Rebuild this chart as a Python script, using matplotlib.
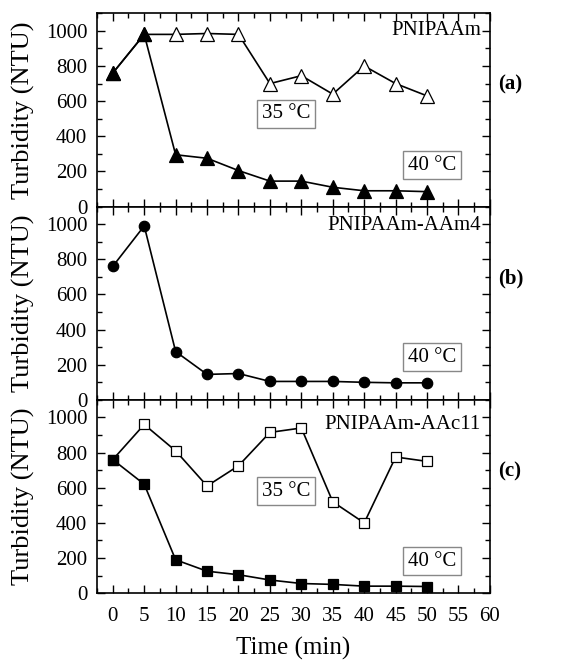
import numpy as np
import matplotlib.pyplot as plt
from matplotlib.ticker import MultipleLocator

plt.rcParams['font.family'] = 'serif'
plt.rcParams['font.serif'] = ['Liberation Serif', 'DejaVu Serif']
plt.rcParams['mathtext.fontset'] = 'stix'

# tiempos de muestreo (min)
t = [0, 5, 10, 15, 20, 25, 30, 35, 40, 45, 50]

# (a) PNIPAAm
a_40 = [760, 980, 295, 275, 205, 145, 145, 110, 90, 90, 85]
a_35 = [760, 980, 980, 985, 980, 700, 745, 640, 800, 700, 630]

# (b) PNIPAAm-AAm4
b_40 = [760, 990, 275, 145, 150, 105, 105, 105, 100, 97, 97]

# (c) PNIPAAm-AAc11
c_35 = [760, 960, 810, 610, 725, 915, 940, 520, 400, 775, 750]
c_40 = [760, 620, 190, 125, 105, 75, 55, 50, 40, 40, 38]

names = ['PNIPAAm', 'PNIPAAm-AAm4', 'PNIPAAm-AAc11']
tags = ['(a)', '(b)', '(c)']
xticks = [0, 5, 10, 15, 20, 25, 30, 35, 40, 45, 50, 55, 60]

fig, axs = plt.subplots(3, 1, figsize=(5.71, 6.65), dpi=100, sharex=True)
fig.subplots_adjust(left=0.17, right=0.858, top=0.98, bottom=0.108, hspace=0)

ln = dict(color='black', lw=1.2, markeredgewidth=0.9)
axs[0].plot(t, a_35, marker='^', mfc='white', mec='black', markersize=9.5, zorder=2, **ln)
axs[0].plot(t, a_40, marker='^', mfc='black', mec='black', markersize=9.5, zorder=3, **ln)
axs[1].plot(t, b_40, marker='o', mfc='black', mec='black', markersize=7.5, **ln)
axs[2].plot(t, c_35, marker='s', mfc='white', mec='black', markersize=6.8, zorder=2, **ln)
axs[2].plot(t, c_40, marker='s', mfc='black', mec='black', markersize=6.8, zorder=3, **ln)

box = dict(boxstyle='square,pad=0.22', fc='white', ec='#888888', lw=1)
axs[0].text(27.6, 528, '35 °C', fontsize=15, ha='center', va='center', bbox=box)
axs[0].text(50.8, 235, '40 °C', fontsize=15, ha='center', va='center', bbox=box)
axs[1].text(50.8, 244, '40 °C', fontsize=15, ha='center', va='center', bbox=box)
axs[2].text(27.6, 580, '35 °C', fontsize=15, ha='center', va='center', bbox=box)
axs[2].text(50.8, 182, '40 °C', fontsize=15, ha='center', va='center', bbox=box)

name_y = [1000, 994, 962]
for ax, nm, tg, ny in zip(axs, names, tags, name_y):
    ax.set_xlim(-2.5, 60)
    ax.set_ylim(0, 1100)
    ax.set_yticks([0, 200, 400, 600, 800, 1000])
    ax.yaxis.set_minor_locator(MultipleLocator(100))
    ax.xaxis.set_minor_locator(MultipleLocator(2.5))
    ax.tick_params(which='both', direction='in', top=True, right=True, labelsize=15)
    ax.tick_params(which='major', length=6, width=1)
    ax.tick_params(which='minor', length=3.5, width=1)
    ax.tick_params(axis='y', pad=7)
    ax.tick_params(axis='x', pad=10)
    for s in ax.spines.values():
        s.set_linewidth(1.2)
    ax.set_ylabel('Turbidity (NTU)', fontsize=19)
    ax.yaxis.set_label_coords(-0.158, 0.5)
    ax.text(58.6, ny, nm, fontsize=15, ha='right', va='center')
    ax.text(1.02, 0.63, tg, transform=ax.transAxes, fontsize=15,
            fontweight='bold', ha='left', va='center')

axs[2].set_xticks(xticks)
axs[2].set_xlabel('Time (min)', fontsize=18, labelpad=8)

plt.savefig('out.png', dpi=100)
